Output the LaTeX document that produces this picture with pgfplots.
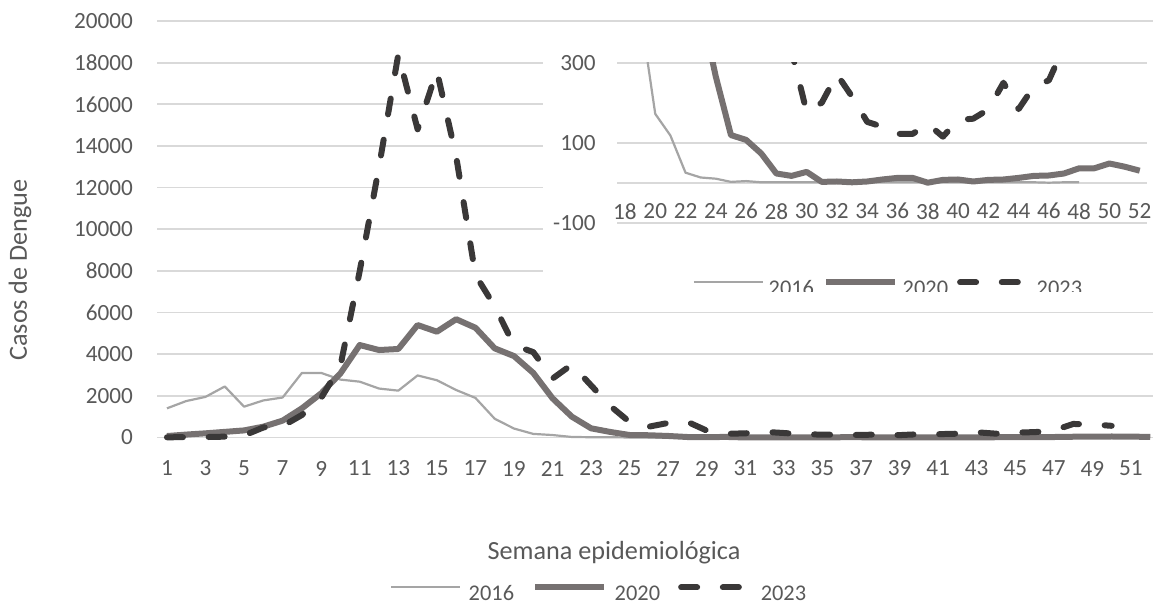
\documentclass[border=0pt]{standalone}
\usepackage{pgfplots}
\usepackage{pgfplotstable}
\pgfplotsset{compat=1.18}
\usepackage{fontspec}
\setmainfont{Carlito}
\definecolor{txt}{HTML}{595959}
\definecolor{gridc}{HTML}{D9D9D9}
\definecolor{cA}{HTML}{A5A5A5}
\definecolor{cB}{HTML}{767171}
\definecolor{cC}{HTML}{3A3838}

\pgfplotstableread{
w v
1 1400
2 1750
3 1950
4 2450
5 1480
6 1780
7 1920
8 3100
9 3100
10 2780
11 2680
12 2350
13 2250
14 2980
15 2750
16 2280
17 1900
18 900
19 430
20 172
21 118
22 25
23 13
24 10
25 2
26 4
27 1
28 1
29 1
30 1
31 1
32 1
33 1
34 1
35 1
36 1
37 1
38 1
39 1
40 1
41 1
42 1
43 1
44 1
45 1
46 0
47 1
48 1
}\dataA

\pgfplotstableread{
w v
1 70
2 140
3 200
4 270
5 340
6 520
7 810
8 1400
9 2120
10 3080
11 4440
12 4200
13 4250
14 5400
15 5080
16 5680
17 5270
18 4280
19 3910
20 3100
21 1880
22 1000
23 440
24 265
25 119
26 107
27 73
28 23
29 17
30 27
31 2
32 3
33 1
34 3
35 8
36 12
37 12
38 0
39 7
40 8
41 3
42 7
43 8
44 12
45 17
46 18
47 23
48 36
49 36
50 48
51 40
52 30
}\dataB

\pgfplotstableread{
w v
1 10
2 15
3 20
4 40
5 100
6 480
7 550
8 1080
9 1900
10 3450
11 8000
12 13000
13 18400
14 14800
15 17600
16 13500
17 7800
18 6300
19 4430
20 4100
21 2830
22 3500
23 2500
24 1510
25 740
26 520
27 700
28 750
29 330
30 177
31 200
32 271
33 215
34 152
35 140
36 122
37 122
38 147
39 115
40 157
41 160
42 183
43 250
44 184
45 240
46 256
47 340
48 650
49 630
50 560
}\dataC

\pgfplotsset{
  s2016/.style={color=cA, line width=1.1pt, line join=round},
  s2020/.style={color=cB, line width=3pt, line join=round},
  s2023/.style={color=cC, line width=3pt, line cap=round, line join=round, dash pattern=on 8pt off 12.85pt},
  base/.style={
    scale only axis,
    axis line style={draw=none},
    tick style={draw=none},
    major tick length=0pt,
    ymajorgrids,
    grid style={gridc, line width=0.9pt},
    tick label style={font=\fontsize{11.6}{14}\selectfont, text=txt},
    /pgf/number format/assume math mode=true,
    /pgf/number format/set thousands separator={},
    scaled ticks=false,
    legend columns=3,
    legend style={draw=none, fill=none, text=txt, font=\fontsize{11.2}{13.5}\selectfont,
      nodes={inner sep=0pt}},
    legend image code/.code={\draw[##1] (0pt,3.6pt) -- (34.3pt,3.6pt);},
  },
}

\begin{document}
\begin{tikzpicture}[font=\fontsize{13.1}{15.5}\selectfont]
\path[use as bounding box] (0pt,0pt) rectangle (576.5pt,302pt);

\begin{axis}[base, at={(78.65pt,83.25pt)}, anchor=south west,
  width=501.3pt, height=208.25pt,
  xmin=0.5, xmax=52.5, ymin=0, ymax=20000,
  xtick={1,3,...,51}, ytick={0,2000,...,20000},
  xticklabel style={anchor=center, inner sep=0pt, yshift=-15.5pt},
  yticklabel style={anchor=east, inner sep=0pt, xshift=-12pt},
  clip=false,
  legend style={at={(0.4396,-0.3758)}, anchor=center,
    /tikz/every odd column/.append style={column sep=4pt},
    /tikz/every even column/.append style={column sep=9pt}},
]
\addplot[s2016] table[x=w,y=v] {\dataA};
\addplot[s2020] table[x=w,y=v] {\dataB};
\addplot[s2023] table[x=w,y=v] {\dataC};
\legend{2016,2020,2023}
\end{axis}

\node[text=txt, rotate=90] at (10pt,167pt) {Casos de Dengue};
\node[text=txt] at (307pt,25.5pt) {Semana epidemiológica};

\begin{scope}
\clip (271.5pt,156pt) rectangle (576.5pt,290pt);
\fill[white] (271.5pt,150pt) rectangle (576.5pt,290pt);
\begin{axis}[base, at={(308.7pt,190.65pt)}, anchor=south west,
  width=264.95pt, height=80pt,
  xmin=17.5, xmax=52.5, ymin=-100, ymax=300,
  xtick={18,20,...,52}, ytick={-100,100,300},
  extra y ticks={0}, extra y tick labels={}, extra tick style={grid=major},
  xticklabel style={anchor=center, inner sep=0pt, yshift=5.75pt},
  yticklabel style={anchor=east, inner sep=0pt, xshift=-10.7pt},
  legend style={at={(0.5097,-0.414)}, anchor=center,
    /tikz/every odd column/.append style={column sep=2.5pt},
    /tikz/every even column/.append style={column sep=4.5pt}},
]
\addplot[s2016] table[x=w,y=v] {\dataA};
\addplot[s2020] table[x=w,y=v] {\dataB};
\addplot[s2023] table[x=w,y=v] {\dataC};
\legend{2016,2020,2023}
\end{axis}
\end{scope}
\end{tikzpicture}
\end{document}
